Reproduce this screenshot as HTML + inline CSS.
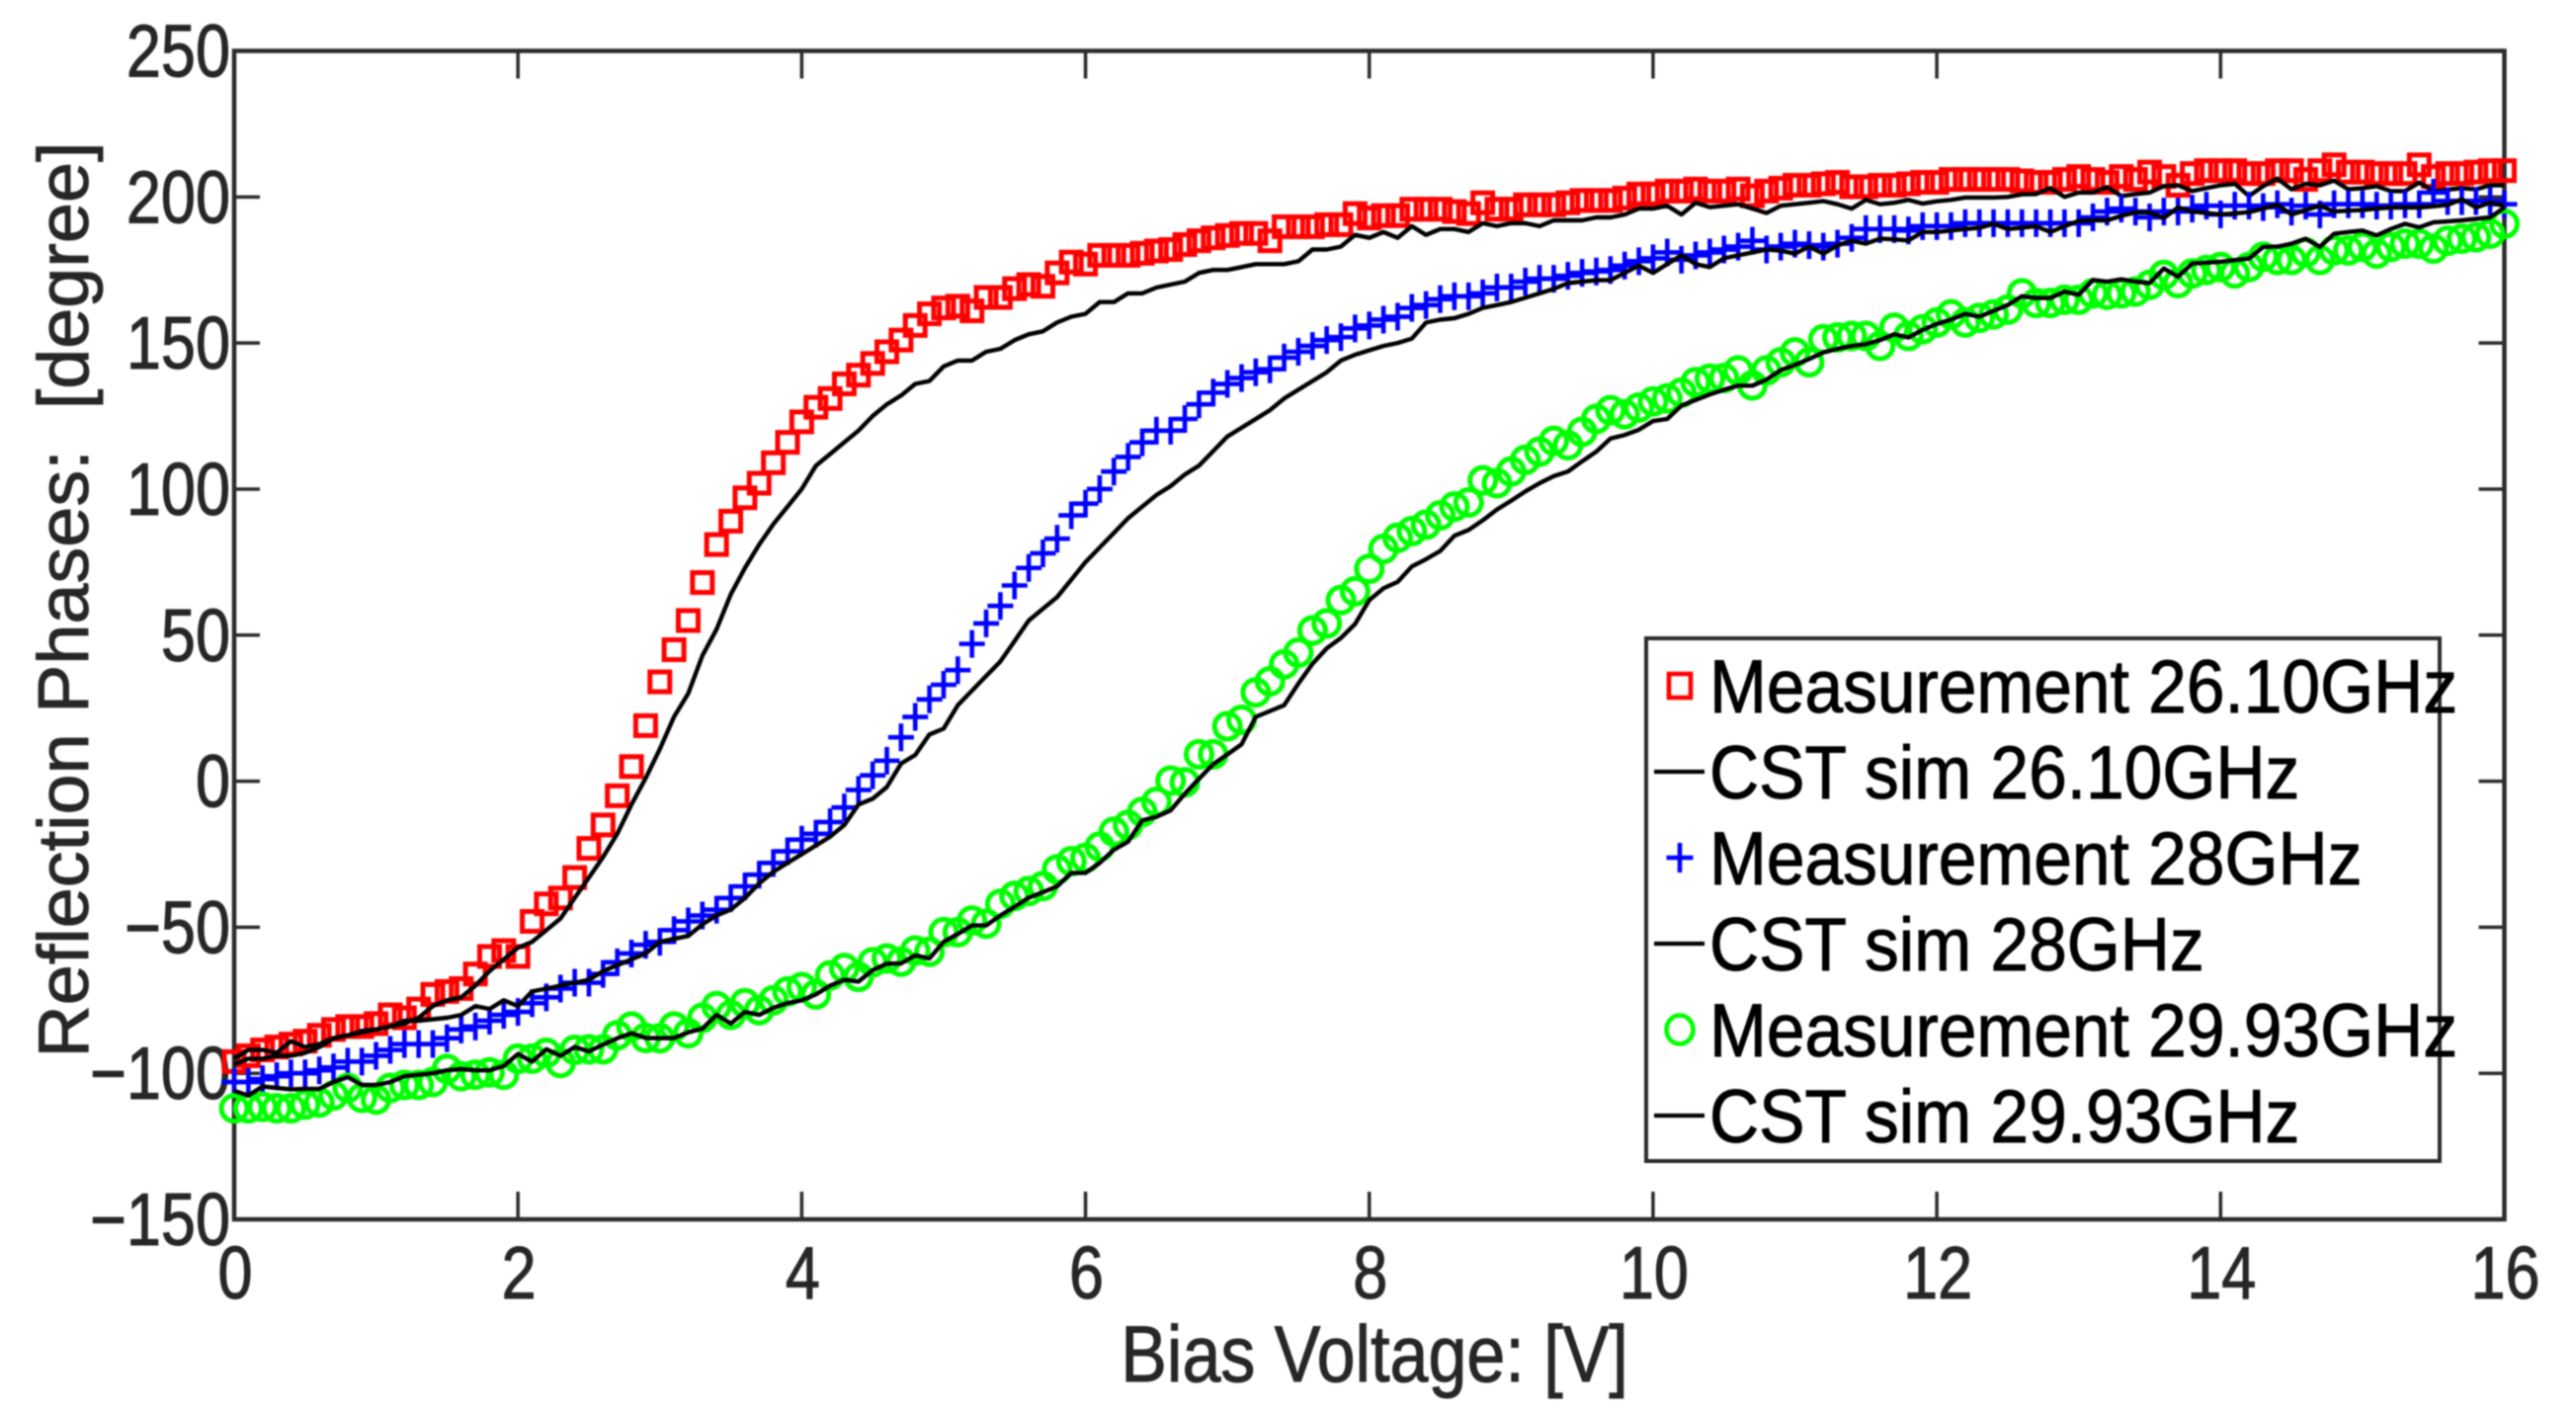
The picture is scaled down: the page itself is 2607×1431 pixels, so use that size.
<!DOCTYPE html>
<html lang="en">
<head>
<meta charset="utf-8">
<title>Reflection Phases vs Bias Voltage</title>
<style>
html,body{margin:0;padding:0;background:#fff;width:2607px;height:1431px;overflow:hidden}
svg{display:block;filter:blur(0.8px)}
text{font-family:"Liberation Sans",Arial,sans-serif}
</style>
</head>
<body>
<svg id="chart" xmlns="http://www.w3.org/2000/svg" width="2607" height="1431" viewBox="0 0 2607 1431">
  <rect x="0" y="0" width="2607" height="1431" fill="#fff"/>
  <g id="axes"></g>
  <g id="series"></g>
  <g id="legend"></g>
</svg>
<script>
const voltage = [0,0.1,0.2,0.3,0.4,0.5,0.6,0.7,0.8,0.9,
1,1.1,1.2,1.3,1.4,1.5,1.6,1.7,1.8,1.9,
2,2.1,2.2,2.3,2.4,2.5,2.6,2.7,2.8,2.9,
3,3.1,3.2,3.3,3.4,3.5,3.6,3.7,3.8,3.9,
4,4.1,4.2,4.3,4.4,4.5,4.6,4.7,4.8,4.9,
5,5.1,5.2,5.3,5.4,5.5,5.6,5.7,5.8,5.9,
6,6.1,6.2,6.3,6.4,6.5,6.6,6.7,6.8,6.9,
7,7.1,7.2,7.3,7.4,7.5,7.6,7.7,7.8,7.9,
8,8.1,8.2,8.3,8.4,8.5,8.6,8.7,8.8,8.9,
9,9.1,9.2,9.3,9.4,9.5,9.6,9.7,9.8,9.9,
10,10.1,10.2,10.3,10.4,10.5,10.6,10.7,10.8,10.9,
11,11.1,11.2,11.3,11.4,11.5,11.6,11.7,11.8,11.9,
12,12.1,12.2,12.3,12.4,12.5,12.6,12.7,12.8,12.9,
13,13.1,13.2,13.3,13.4,13.5,13.6,13.7,13.8,13.9,
14,14.1,14.2,14.3,14.4,14.5,14.6,14.7,14.8,14.9,
15,15.1,15.2,15.3,15.4,15.5,15.6,15.7,15.8,15.9,
16];

const measured26 = [-96,-94,-92,-91,-90,-89,-87,-85,-84,-84,
-83,-80,-81,-78,-73,-72,-71,-66,-60,-58,
-60,-48,-42,-40,-33,-23,-15,-5,5,19,
34,45,55,68,81,89,97,102,109,116,
123,128,131,136,139,143,147,151,156,160,
162,162.6,161,165.6,165.6,168.6,170,169.4,174,177.7,
177,180,180,180,180.7,181.5,182,183.7,185,186,
186.8,187.5,187.5,185,189.8,189.8,189.8,190.5,190.5,194.3,
192.8,193.6,193.6,195.8,195.8,195.8,195,194.3,198,195.8,
195.8,197.3,197.3,197.3,198,198.8,198.8,198.8,199.6,201,
201,202,202,202.7,202,202,202.7,200.4,202,203,
204,204,204.5,205,203.5,203.5,204,204,204.5,205,
205,206,206,206,206,206,205.5,205,205,206,
207,206,205,207,206,208.5,207,204,208,209,
209,209,208,208,209,209,206,209,211,208.5,
208.5,208,208,208,211,207,208,208,208.5,209,
209];

const simulated26 = [-95,-92,-92,-93,-89,-91,-90,-88,-87,-86,
-85,-84,-83,-81,-77,-75,-74,-70,-65,-61,
-57,-55,-51,-47,-40,-33,-26,-18,-8,1,
11,22,30,43,52,64,73,81,88,94,
100,108,112,116,120,125,129,132,136,137,
142,144,144,147,148,151,153,154,157,159,
160,164,164,167,167,169,170,171,174,175,
175,176,177,177,177,178,182,182,183,187,
186,188,186,190,187,189,189,188,191,190,
191,191,190,192,192,192,193,193,194,196,
196,197,194,198,196.5,197,197.5,196,194.5,197,
197.5,198,198.6,197.5,196,199,197.5,198,199,197.7,
198.5,199,199.8,199.8,199.8,200,200.9,201,203,200,
201.5,201.5,203.4,200.3,201,201.5,203.7,204,202,203,
204,204.5,200.3,203.7,206.3,202.6,204.5,204,205.6,202.6,
203,203.7,202,202,204.9,202,202.5,203,202.6,204,
204];

const measured28 = [-103,-103,-102,-101,-100,-100,-99,-98,-96,-96,
-94,-92,-90,-90,-90,-88,-85,-84,-82,-80,
-79,-76,-74,-71,-69,-69,-66,-62,-59,-56,
-55,-51,-48,-46,-44,-40,-36,-32,-28,-24,
-20,-18,-14,-9,-3,2,7,15,22,28,
33,38,47,54,60,67,73,78,83,91,
95,100,106,111,116,120,120,124,129,133,
136,138,140,141,145,147,149,151,152,155,
156,158,159,162,163,165,166,166,167,169,
169,171,172,172,173,174,174.5,175,176.5,178,
179,181,178.5,180,181,182,183,185,182,183,
184,183.5,183,184,186,189,189,189,188.5,190,
190,190,191,191,191,191,191,191,191,191,
191,193,195,196,195,193,195,195,196,197,
194,197,197,196.5,197.5,195,197,194,197.5,197.5,
197.5,197,197,197.5,197.5,201.5,198.6,198.6,198.6,198.6,
197.5];

const simulated28 = [-97,-95,-95,-94,-94,-93,-91,-88,-87,-85.5,
-85,-84,-82,-82,-81.5,-81,-80,-77,-78,-75,
-77,-72,-71,-70,-69,-68,-65,-63,-61,-59,
-55,-54,-53,-49,-46,-44,-40,-35,-31,-28,
-25,-22,-19,-15,-8,-6,-2,6,9,16,
18,26,31,36,41,48,55,59,63,69,
75,80,85,90,94,98,101,105,108,113,
118,121,124,127,131,134,137,140,144,146,
147.5,149,150,151.5,157,158,158.5,160,162,163,
164,165.5,167,168.5,170.5,171,171.5,171.5,174,176.5,
174,177,180,177,176,179,180,181,182,181.6,
180.6,183,180.6,183.4,185,184,185.7,185.5,185.1,188,
188,188.5,189,189.4,190.8,189,189.5,190,188,190,
191.8,192,192,193.5,194.7,194.7,192.8,196.4,195,194.5,
194,194.4,194.8,196,197.3,194,195.5,197,195,195.3,
195.5,196,196.4,196.4,196.4,196.8,197.3,199.2,196.4,198,
197];

const measured2993 = [-112,-112,-111.5,-112,-112,-110.7,-110,-107.6,-105,-108.4,
-109,-105,-104,-104,-103,-98.5,-101,-100.5,-99.7,-100.5,
-95,-95,-93,-96.5,-92,-91.8,-91.8,-87,-84,-87.9,
-88,-84,-86.3,-81,-77,-80,-76,-78.4,-75,-72,
-70.5,-73,-66.5,-64,-67,-62,-60.7,-61.8,-58,-58.4,
-51.7,-51.7,-47.7,-48.8,-42,-39.3,-37.6,-35.9,-30.2,-27.4,
-26.3,-22.4,-17.3,-15,-10.5,-7.1,0.2,-0.4,9.2,9.2,
18.8,21,30.4,34.2,40,44,51.6,54,62,65,
72.7,79.5,83.3,85.6,87.8,91,94,95.4,103,102,
106,110,112.8,116.5,115,119.6,124,127,125.6,127.9,
130,131,133,136.6,137.8,138,140.6,135.5,140.6,143.4,
146.8,143.4,151.3,151.9,152.4,152.4,149,155.2,152.4,154.7,
157,159.8,157,158.6,159.8,161.4,167,163.7,163.7,164.8,
164.8,167,166.5,167,167.6,169.9,173.3,170.5,173.8,175,
176,173.8,176,179.5,178.4,178.4,181,178.4,181.7,181.7,
182.9,180.6,182.9,184,184,182.3,185,185.7,186.2,187.4,
190.8];

const simulated2993 = [-106,-107.6,-104.5,-105,-105.5,-105.3,-105.3,-103,-101.3,-104,
-104,-103,-101,-100.5,-100,-99,-98.6,-99,-99,-97.5,
-93.4,-96,-91.8,-94,-91,-92.5,-90.2,-88,-86.3,-87.9,
-88,-87.9,-86,-84.7,-80,-83,-79,-80,-77.6,-76,
-75,-73,-70,-68,-68.6,-64.7,-62.5,-62.4,-59.6,-60.7,
-55,-52.3,-49.4,-49.4,-46,-43,-39.9,-38,-36,-31.4,
-31.4,-28,-23.5,-20.7,-13.4,-12.2,-10,-4.3,0.8,5.8,
9.2,12.6,22,24,26,33.4,40.2,45.5,49,53.8,
62,66,68.2,73.5,76,78.8,84,86,89.3,93,
96,99.2,102,104.4,106,109.5,112.8,117.3,118.5,120.3,
123.3,124,128.6,130.5,132.4,134,135.4,135.4,137.5,140.7,
142.5,144.5,146.8,148,149,149.6,151,153,151.9,154.5,
156.5,158,160,159,161,163,166,165.4,165.4,167.6,
166.5,171.6,171,171.8,171,170.5,175.5,172.7,177.2,177.5,
177.8,178.4,178.9,182.9,183,184,185.7,182.9,187.4,188,
188.5,186.8,189,190.8,189.6,191.3,191.6,192,192.5,193,
196.4];

const xTicks = [0,2,4,6,8,10,12,14,16];
const xTickLabels = ["0","2","4","6","8","10","12","14","16"];
const yTicks = [-150,-100,-50,0,50,100,150,200,250];
const yTickLabels = ["\u2212150","\u2212100","\u221250","0","50","100","150","200","250"];
const legendLabels = ["Measurement 26.10GHz","CST sim 26.10GHz","Measurement 28GHz","CST sim 28GHz","Measurement 29.93GHz","CST sim 29.93GHz"];

const NS = "http://www.w3.org/2000/svg";
const axesG = document.getElementById("axes");
const seriesG = document.getElementById("series");
const legendG = document.getElementById("legend");
const plot = {left:237, right:2534.5, top:51.5, bottom:1234};
const xMin = 0, xMax = 16, yMin = -150, yMax = 250;
const axisColor = "#2b2b2b";

function xScale(v){ return plot.left + (v - xMin) / (xMax - xMin) * (plot.right - plot.left); }
function yScale(v){ return plot.bottom - (v - yMin) / (yMax - yMin) * (plot.bottom - plot.top); }

function make(tag, parent, attrs){
  const el = document.createElementNS(NS, tag);
  for (const k in attrs) el.setAttribute(k, attrs[k]);
  parent.appendChild(el);
  return el;
}
function label(parent, str, x, y, size, anchor, sy, fill){
  const t = make("text", parent, {"font-size":size, "text-anchor":anchor, fill:fill, stroke:fill, "stroke-width":0.9, transform:"translate("+x+","+y+") scale(1,"+sy+")"});
  t.textContent = str;
  return t;
}

/* frame */
const frame = make("rect", axesG, {x:plot.left, y:plot.top, width:plot.right-plot.left, height:plot.bottom-plot.top, fill:"none", stroke:axisColor, "stroke-width":4.5});



/* x ticks */
xTicks.forEach(function(v, i){
  const x = xScale(v);
  const b = make("line", axesG, {x1:x, x2:x, y1:plot.bottom, y2:plot.bottom-28, stroke:axisColor, "stroke-width":3.5});
  
  
  const t = make("line", axesG, {x1:x, x2:x, y1:plot.top, y2:plot.top+28, stroke:axisColor, "stroke-width":3.5});
  
  
  const l = label(axesG, xTickLabels[i], x+1, 1314, 63, "middle", 1.2, "#262626");
  
  
});

/* y ticks */
yTicks.forEach(function(v, i){
  const y = yScale(v);
  const b = make("line", axesG, {x1:plot.left, x2:plot.left+26, y1:y, y2:y, stroke:axisColor, "stroke-width":3.5});
  
  
  const r = make("line", axesG, {x1:plot.right, x2:plot.right-26, y1:y, y2:y, stroke:axisColor, "stroke-width":3.5});
  
  
  const l = label(axesG, yTickLabels[i], 233, y+26, 63, "end", 1.2, "#262626");
  
  
});

/* axis titles */
const xTitle = label(axesG, "Bias Voltage: [V]", 1391, 1398, 70, "middle", 1.15, "#262626");



const yTitle = make("text", axesG, {"font-size":72, "text-anchor":"middle", fill:"#262626", stroke:"#262626", "stroke-width":0.9, transform:"translate(89,607) rotate(-90) scale(1.025,1)"});
yTitle.textContent = "Reflection Phases:  [degree]";
yTitle.setAttribute("xml:space", "preserve");
yTitle.style.whiteSpace = "pre";



/* marker drawing */
function drawSquare(parent, cx, cy, s){
  return make("rect", parent, {x:cx-s/2, y:cy-s/2, width:s, height:s, fill:"none", stroke:"#ff0000", "stroke-width":5});
}
function drawPlus(parent, cx, cy, w, h){
  return make("path", parent, {d:"M"+(cx-w/2)+" "+cy+"H"+(cx+w/2)+"M"+cx+" "+(cy-h/2)+"V"+(cy+h/2), fill:"none", stroke:"#0000ff", "stroke-width":4.6});
}
function drawCircle(parent, cx, cy, r){
  return make("circle", parent, {cx:cx, cy:cy, r:r, fill:"none", stroke:"#00ff00", "stroke-width":5});
}
function drawSim(values, name){
  const pts = values.map(function(v, i){ return xScale(voltage[i]).toFixed(1) + "," + yScale(v).toFixed(1); }).join(" ");
  const p = make("polyline", seriesG, {points:pts, fill:"none", stroke:"#000", "stroke-width":4.4, "stroke-linejoin":"round"});
  
  
}

const g26 = make("g", seriesG, {});


measured26.forEach(function(v, i){
  const m = drawSquare(g26, xScale(voltage[i]), yScale(v), 20);
  
  
});
drawSim(simulated26, 'cst-sim-26ghz-line');

const g28 = make("g", seriesG, {});


measured28.forEach(function(v, i){
  const m = drawPlus(g28, xScale(voltage[i]), yScale(v), 26, 28);
  
  
});
drawSim(simulated28, 'cst-sim-28ghz-line');

const g30 = make("g", seriesG, {});


measured2993.forEach(function(v, i){
  const m = drawCircle(g30, xScale(voltage[i]), yScale(v), 13);
  
  
});
drawSim(simulated2993, 'cst-sim-2993ghz-line');

/* legend */
const legendBox = make("rect", legendG, {x:1676, y:650, width:803, height:529, fill:"#fff", stroke:axisColor, "stroke-width":4});
legendBox.setAttribute('x', 1676);
legendBox.setAttribute('y', 650);
legendBox.setAttribute('x', 1666);
legendBox.setAttribute('y', 646);



const legendBase = 721, legendStep = 87;
legendLabels.forEach(function(str, i){
  const base = legendBase + i * legendStep;
  const cy = base - 27;
  let sym;
  if (i === 0) sym = make("rect", legendG, {x:1689, y:cy-12, width:22, height:24, fill:"none", stroke:"#ff0000", "stroke-width":4.6});
  else if (i === 2) sym = drawPlus(legendG, 1700, cy, 27, 30);
  else if (i === 4) sym = make("ellipse", legendG, {cx:1700, cy:cy, rx:13.5, ry:14.5, fill:"none", stroke:"#00ff00", "stroke-width":4.6});
  else sym = make("line", legendG, {x1:1674, x2:1725, y1:cy, y2:cy, stroke:"#000", "stroke-width":4.2});
  
  
  const t = label(legendG, str, 1730, base, 69.5, "start", 1.09, "#000");
  
  
});
</script>
</body>
</html>
